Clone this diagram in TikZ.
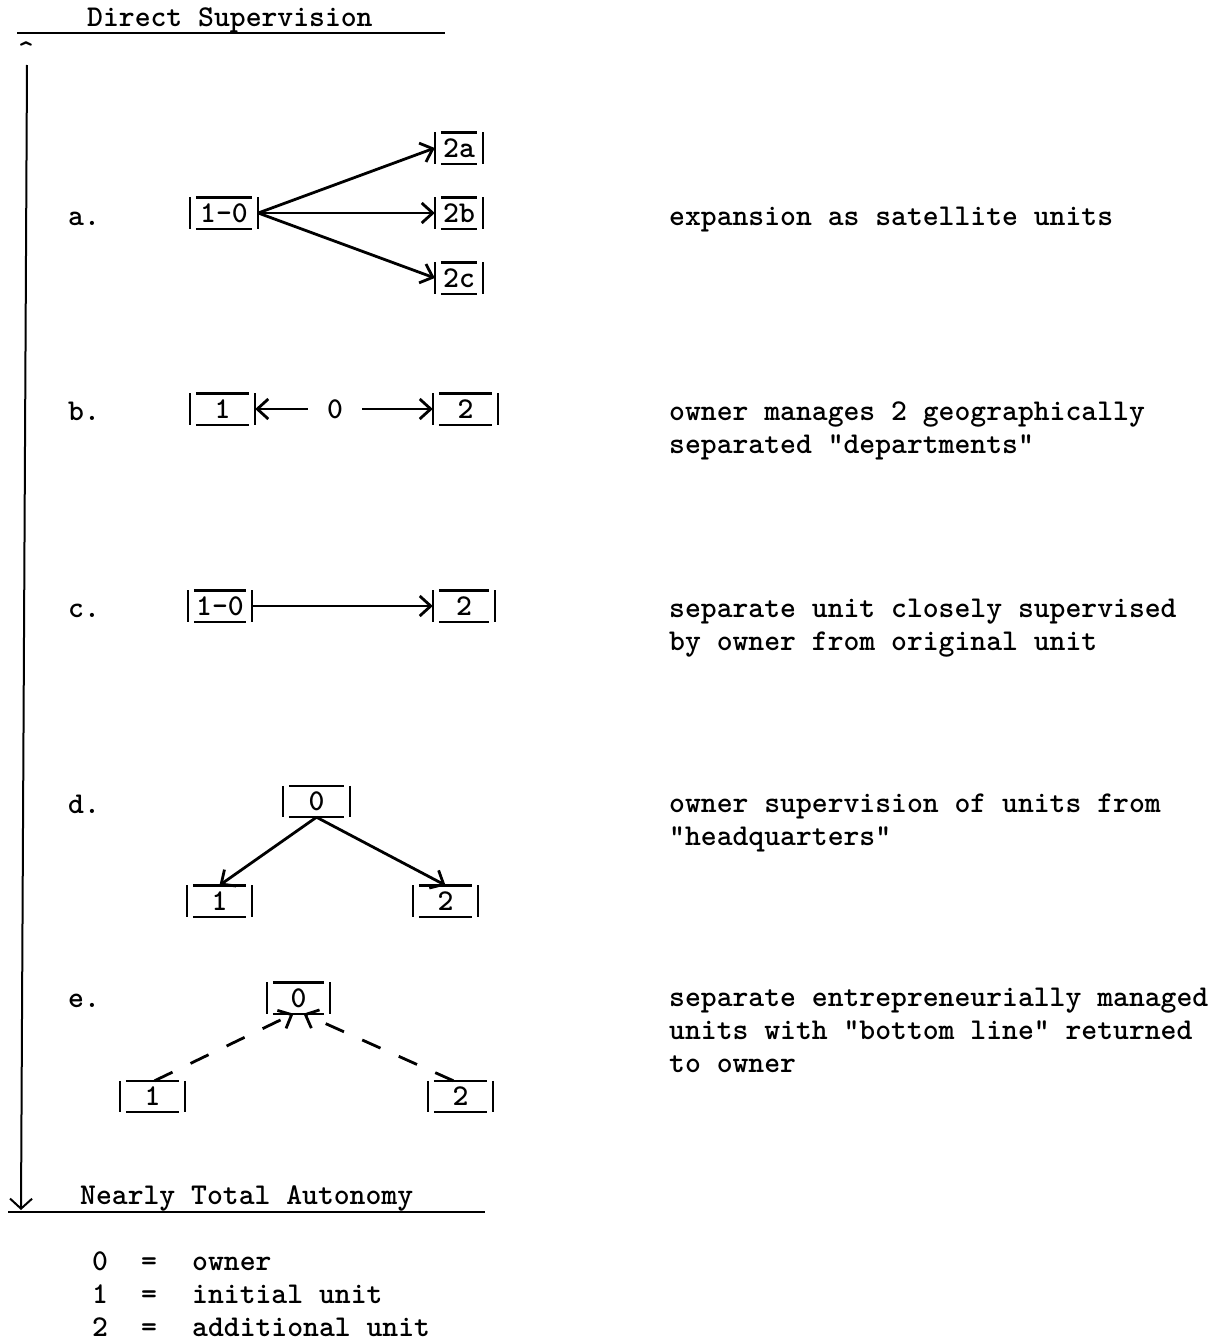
\documentclass[tikz,border=0pt]{standalone}
\usetikzlibrary{arrows.meta}
% typewriter face used for every label
\newcommand\typed{\fontsize{30.2pt}{33.3pt}\selectfont\ttfamily\bfseries}
\tikzset{
  every node/.style={inner sep=0pt, font=\typed, text=black},
  rule/.style={line width=2pt},
  boxline/.style={draw, line width=2.4pt},
  % unit box typed as |_x_| : two bars plus over- and underline
  ubox/.style={minimum width=#1, minimum height=31pt, text height=18pt, text depth=0pt,
    append after command={\pgfextra{\let\bxn\tikzlastnode}
      (\bxn.north west) edge[boxline] (\bxn.south west)
      (\bxn.north east) edge[boxline] (\bxn.south east)
      ([xshift=6pt]\bxn.north west) edge[boxline] ([xshift=-6pt]\bxn.north east)
      ([xshift=6pt]\bxn.south west) edge[boxline] ([xshift=-6pt]\bxn.south east)}},
  link/.style={line width=2.8pt, -{Straight Barb[length=11pt,width=20pt]}},
  dlink/.style={link, dash pattern=on 20pt off 20pt},
  lbl/.style={anchor=base west},
}
\begin{document}
\begin{tikzpicture}[x=1pt, y=-1pt]
\fill[white] (0,0) rectangle (1231,1341);
\useasboundingbox (0,0) rectangle (1231,1341);

% scale: direct supervision to nearly total autonomy
\node[lbl] (topttl) at (87,27) {Direct Supervision};
\draw[rule] (17,33) -- (445,33);
\node[anchor=base] (caret) at (26,60) {\textasciicircum};
\coordinate (axtop) at (27,65);
\coordinate (axbot) at (21,1210);
\draw[rule, -{Straight Barb[length=10pt,width=22pt]}] (axtop) -- (axbot);
\node[lbl] (botttl) at (80,1204) {Nearly Total Autonomy};
\draw[rule] (8,1212) -- (485,1212);

% row labels
\node[lbl] (la) at (68,225) {a.};
\node[lbl] (lb) at (68,420) {b.};
\node[lbl] (lc) at (68,617) {c.};
\node[lbl] (ld) at (68,813) {d.};
\node[lbl] (le) at (68,1007) {e.};

% a. satellite units
\node[ubox=68pt] (a10) at (224,213) {1-0};
\node[ubox=48pt] (a2a) at (459,148) {2a};
\node[ubox=48pt] (a2b) at (459,213) {2b};
\node[ubox=48pt] (a2c) at (459,278) {2c};
\draw[link] (a10.east) -- (a2a.west);
\draw[link] (a10.east) -- (a2b.west);
\draw[link] (a10.east) -- (a2c.west);

% b. owner between two departments
\node[ubox=65pt] (b1) at (222.5,409) {1};
\node[ubox=65pt] (b2) at (465.5,409) {2};
\node[inner xsep=19pt, text height=18pt, text depth=0pt] (b0) at (335,409) {0};
\draw[link] (b0.west) -- (b1.east);
\draw[link] (b0.east) -- (b2.west);

% c. separate unit supervised from original unit
\node[ubox=64pt] (c10) at (220,606) {1-0};
\node[ubox=62pt] (c2) at (464,606) {2};
\draw[link] (c10.east) -- (c2.west);

% d. headquarters
\node[ubox=67pt] (d0) at (316.5,801.5) {0};
\node[ubox=65pt] (d1) at (219.5,901) {1};
\node[ubox=65pt] (d2) at (445.5,901) {2};
\draw[link] (d0.south) -- (d1.north);
\draw[link] (d0.south) -- (d2.north);

% e. bottom line returned to owner
\node[ubox=63pt] (e0) at (298.5,998) {0};
\node[ubox=65pt] (e1) at (152.5,1096.5) {1};
\node[ubox=65pt] (e2) at (460.5,1096.5) {2};
\draw[dlink] ([xshift=2pt]e1.north) -- ([xshift=-5pt]e0.south);
\draw[dlink] ([xshift=-7pt]e2.north) -- ([xshift=5pt]e0.south);

% descriptions
\node[lbl] (ta) at (669,225) {expansion as satellite units};
\node[lbl] (tb) at (669,420) {\begin{tabular}[t]{@{}l@{}}owner manages 2 geographically\\separated "departments"\end{tabular}};
\node[lbl] (tc) at (669,617) {\begin{tabular}[t]{@{}l@{}}separate unit closely supervised\\by owner from original unit\end{tabular}};
\node[lbl] (td) at (669,812) {\begin{tabular}[t]{@{}l@{}}owner supervision of units from\\"headquarters"\end{tabular}};
\node[lbl] (te) at (669,1006) {\begin{tabular}[t]{@{}l@{}}separate entrepreneurially managed\\units with "bottom line" returned\\to owner\end{tabular}};

% key
\node[lbl] (k0) at (92,1270) {0};
\node[lbl] (k0e) at (141,1270) {=};
\node[lbl] (k0t) at (192,1270) {owner};
\node[lbl] (k1) at (92,1303) {1};
\node[lbl] (k1e) at (141,1303) {=};
\node[lbl] (k1t) at (192,1303) {initial unit};
\node[lbl] (k2) at (92,1336) {2};
\node[lbl] (k2e) at (141,1336) {=};
\node[lbl] (k2t) at (192,1336) {additional unit};
\end{tikzpicture}
\end{document}
